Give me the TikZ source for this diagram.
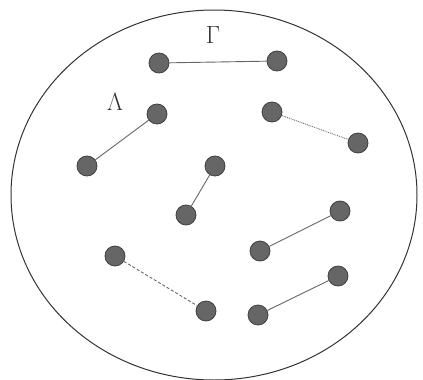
\documentclass[tikz,border=0pt]{standalone}
\usepackage{amsmath,amssymb}
\usepackage{xcolor}
\usepackage{tikz}

\begin{document}
\begin{tikzpicture}[x=1pt, y=-1pt,
  dot/.style={circle, draw=black!75, fill=black!60, line width=0.8pt, minimum size=20pt, inner sep=0pt},
  bond/.style={draw=black!60, line width=0.9pt}]
\useasboundingbox (0,0) rectangle (423,380);

% Outer region
\draw[line width=1pt, black!80] (214,195) ellipse (203 and 185);

% Labels
\node[font=\fontsize{24}{28}\selectfont, black!80] (gam) at (213,35) {$\Gamma$};
\node[font=\fontsize{24}{28}\selectfont, black!80] (lam) at (115,102) {$\Lambda$};

% Pairs
\node[dot] (a1) at (159,63) {};
\node[dot] (a2) at (277,61) {};
\node[dot] (b1) at (157,114) {};
\node[dot] (b2) at (87,166) {};
\node[dot] (c1) at (272,112) {};
\node[dot] (c2) at (358,143) {};
\node[dot] (d1) at (215,166) {};
\node[dot] (d2) at (186,215) {};
\node[dot] (e1) at (340,211) {};
\node[dot] (e2) at (260,251) {};
\node[dot] (f1) at (115,256) {};
\node[dot] (f2) at (206,311) {};
\node[dot] (g1) at (338,276) {};
\node[dot] (g2) at (258,315) {};

\draw[bond] (a1) -- (a2);
\draw[bond] (b1) -- (b2);
\draw[bond, densely dotted] (c1) -- (c2);
\draw[bond] (d1) -- (d2);
\draw[bond] (e1) -- (e2);
\draw[bond, densely dashed] (f1) -- (f2);
\draw[bond] (g1) -- (g2);

\end{tikzpicture}
\end{document}
